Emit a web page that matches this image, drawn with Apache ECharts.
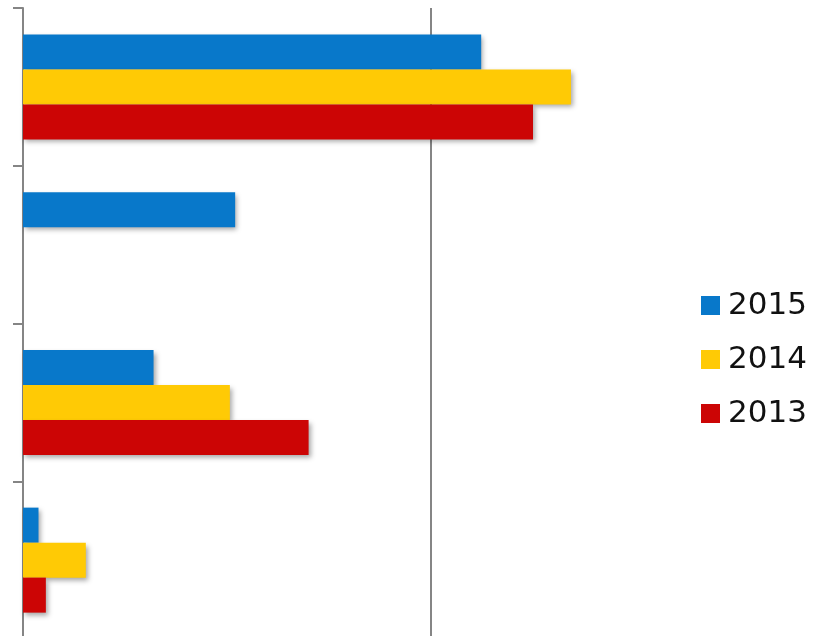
<!DOCTYPE html>
<html>
<head>
<meta charset="utf-8">
<style>
  html, body { margin: 0; padding: 0; background: #fff; }
  #chart { width: 827px; height: 636px; }
</style>
<script src="https://cdn.jsdelivr.net/npm/echarts@6/dist/echarts.min.js"></script>
</head>
<body>
<div id="chart"></div>
<script>
// Categories from top to bottom
const categories = ['A', 'B', 'C', 'D'];
// Values per year, same order as categories
const values2015 = [112.3, 52, 32, 3.8];
const values2014 = [134.3, null, 50.7, 15.4];
const values2013 = [125, null, 70, 5.6];

const seriesNames = ['2015', '2014', '2013'];
const seriesValues = [values2015, values2014, values2013];
const seriesColors = ['#0878CA', '#FFCA05', '#CC0505'];

const chart = echarts.init(document.getElementById('chart'), null, { renderer: 'canvas' });

const axisGrey = '#858585';

chart.setOption({
  animation: false,
  backgroundColor: '#ffffff',
  grid: {
    left: 23, right: -12, top: 8, bottom: -3,
    containLabel: false,
    outerBoundsMode: 'none'
  },
  xAxis: {
    type: 'value',
    min: 0,
    max: 200,
    interval: 100,
    axisLine: { show: false },
    axisTick: { show: false },
    axisLabel: { show: false },
    splitLine: { show: true, lineStyle: { color: axisGrey, width: 2 } }
  },
  yAxis: {
    type: 'category',
    data: categories,
    inverse: true,
    axisLine: { show: true, lineStyle: { color: axisGrey, width: 2 } },
    axisTick: { show: true, inside: false, length: 10, lineStyle: { color: axisGrey, width: 2 } },
    axisLabel: { show: false },
    splitLine: { show: false }
  },
  legend: {
    orient: 'vertical',
    left: 701,
    top: 288,
    padding: 0,
    icon: 'rect',
    itemWidth: 19,
    itemHeight: 19,
    itemGap: 19,
    data: seriesNames,
    textStyle: {
      fontFamily: 'DejaVu Sans',
      fontSize: 31,
      lineHeight: 35,
      color: '#111',
      padding: [0, 0, 0, 3]
    }
  },
  series: seriesNames.map((name, i) => ({
    name: name,
    type: 'bar',
    data: seriesValues[i],
    barWidth: 35,
    barGap: '0%',
    itemStyle: {
      color: seriesColors[i],
      shadowColor: 'rgba(0,0,0,0.35)',
      shadowBlur: 5,
      shadowOffsetX: 2,
      shadowOffsetY: 3
    }
  }))
});
</script>
</body>
</html>
